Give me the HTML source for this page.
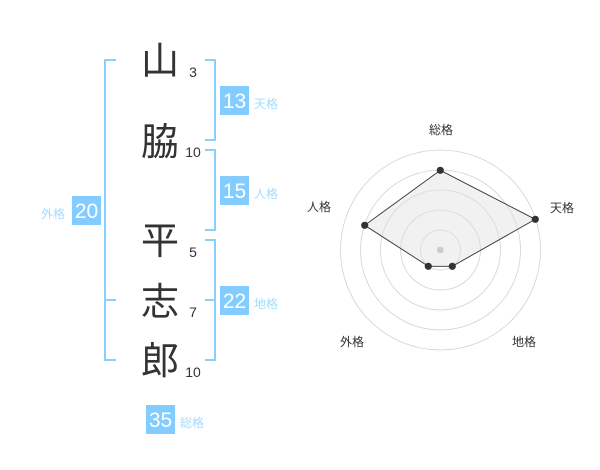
<!DOCTYPE html>
<html lang="ja">
<head>
<meta charset="utf-8">
<style>
html,body{margin:0;padding:0;background:#fff}
#p{position:relative;width:600px;height:470px;overflow:hidden;background:#fff;font-family:"Liberation Sans","WenQuanYi Zen Hei","Noto Sans CJK JP",sans-serif}
#p div{position:absolute;white-space:nowrap}
.k{left:140px;width:40px;height:40px;line-height:40px;font-size:38px;text-align:center;color:#333}
.n{width:30px;text-align:center;font-size:14px;line-height:16px;color:#333}
.b{width:29px;height:29px;line-height:32px;background:#83ccff;color:#fff;font-size:21px;text-align:center}
.l{font-size:12px;line-height:14px;color:#a5dbfd}
.r{font-size:12px;line-height:14px;color:#333}
.s{background:#8ad0ff}
</style>
</head>
<body>
<div id="p">
<div class="s" style="left:104px;top:60px;width:2px;height:301px"></div>
<div class="s" style="left:104px;top:59px;width:12px;height:2px"></div>
<div class="s" style="left:104px;top:299px;width:12px;height:2px"></div>
<div class="s" style="left:104px;top:359px;width:12px;height:2px"></div>

<div class="s" style="left:214px;top:59px;width:2px;height:82px"></div>
<div class="s" style="left:205px;top:59px;width:10px;height:2px"></div>
<div class="s" style="left:205px;top:139px;width:10px;height:2px"></div>

<div class="s" style="left:214px;top:149px;width:2px;height:82px"></div>
<div class="s" style="left:205px;top:149px;width:10px;height:2px"></div>
<div class="s" style="left:205px;top:229px;width:10px;height:2px"></div>

<div class="s" style="left:214px;top:239px;width:2px;height:122px"></div>
<div class="s" style="left:205px;top:239px;width:10px;height:2px"></div>
<div class="s" style="left:205px;top:299px;width:10px;height:2px"></div>
<div class="s" style="left:205px;top:359px;width:10px;height:2px"></div>

<div class="k" style="top:42px">山</div>
<div class="k" style="top:123px">脇</div>
<div class="k" style="top:222px">平</div>
<div class="k" style="top:283px">志</div>
<div class="k" style="top:342px">郎</div>

<div class="n" style="left:178px;top:64px">3</div>
<div class="n" style="left:178px;top:144px">10</div>
<div class="n" style="left:178px;top:244px">5</div>
<div class="n" style="left:178px;top:304px">7</div>
<div class="n" style="left:178px;top:364px">10</div>

<div class="b" style="left:220px;top:86px">13</div>
<div class="l" style="left:254px;top:97px">天格</div>
<div class="b" style="left:220px;top:176px">15</div>
<div class="l" style="left:254px;top:187px">人格</div>
<div class="b" style="left:220px;top:286px">22</div>
<div class="l" style="left:254px;top:297px">地格</div>
<div class="b" style="left:72px;top:196px">20</div>
<div class="l" style="left:41px;top:207px">外格</div>
<div class="b" style="left:146px;top:405px">35</div>
<div class="l" style="left:180px;top:416px">総格</div>

<svg style="position:absolute;left:0;top:0" width="600" height="470" viewBox="0 0 600 470">
<g fill="none" stroke="#d2d2d2" stroke-width="0.8">
<circle cx="440.5" cy="250" r="20"/>
<circle cx="440.5" cy="250" r="40"/>
<circle cx="440.5" cy="250" r="60"/>
<circle cx="440.5" cy="250" r="80"/>
<circle cx="440.5" cy="250" r="100"/>
</g>
<polygon points="440.3,170.3 535.3,219.3 452.3,266.3 428.3,266.3 364.7,225.3" fill="#e0e0e0" fill-opacity=".45" stroke="#333" stroke-width="0.9"/>
<circle cx="440.3" cy="250" r="3.4" fill="#ccc"/>
<g fill="#333">
<circle cx="440.3" cy="170.3" r="3.6"/>
<circle cx="535.3" cy="219.3" r="3.6"/>
<circle cx="452.3" cy="266.3" r="3.6"/>
<circle cx="428.3" cy="266.3" r="3.6"/>
<circle cx="364.7" cy="225.3" r="3.6"/>
</g>
</svg>

<div class="r" style="left:429px;top:123px">総格</div>
<div class="r" style="left:550px;top:201px">天格</div>
<div class="r" style="left:307px;top:200px">人格</div>
<div class="r" style="left:340px;top:335px">外格</div>
<div class="r" style="left:512px;top:335px">地格</div>
</div>
</body>
</html>
